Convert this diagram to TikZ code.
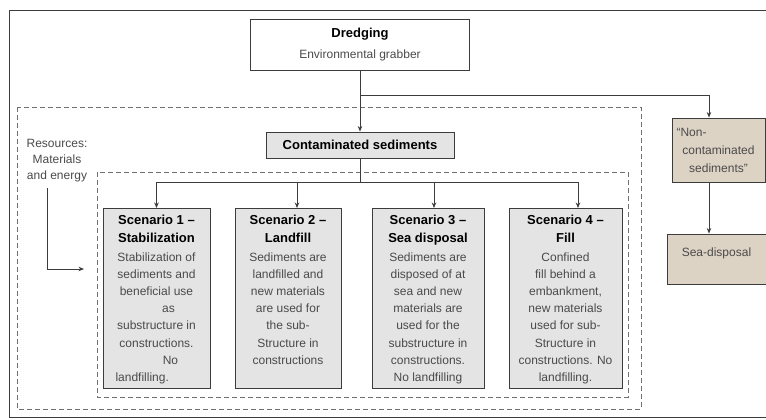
\documentclass[tikz,border=0pt]{standalone}
\usepackage{fontspec}
\setmainfont{Liberation Sans}
\usepackage{xcolor}
\usetikzlibrary{positioning, arrows.meta, arrows}

\definecolor{linegray}{HTML}{3C3C3C}
\definecolor{dashgray}{HTML}{707070}
\definecolor{boxgray}{HTML}{E4E4E4}
\definecolor{sandtan}{HTML}{DDD3C5}
\definecolor{bodygray}{HTML}{4A4A4A}

% title + body of one scenario box
\newcommand{\scentext}[2]{\parbox[t][166pt][t]{104pt}{\centering
  \fontsize{13}{18}\selectfont\bfseries #1\par
  \vspace{1pt}\fontsize{12}{17.2}\selectfont\mdseries\color{bodygray}#2\par}}

\begin{document}
\begin{tikzpicture}[x=1pt,y=-1pt,>={Stealth[length=5.5pt,width=4.5pt]},
    line/.style={draw=linegray, line width=0.9pt},
    conn/.style={->, draw=linegray, line width=0.9pt},
    dashbox/.style={draw=dashgray, line width=0.8pt, dash pattern=on 5pt off 3pt},
    box/.style={draw=linegray, line width=0.9pt, inner sep=2pt},
    scen/.style={box, fill=boxgray, anchor=north, inner xsep=1pt, inner ysep=7pt},
    tanbox/.style={box, fill=sandtan, font=\fontsize{12}{18}\selectfont, text=bodygray}]
    \useasboundingbox (0,0) rectangle (766,420);

    % frame and dashed regions
    \draw[line] (780,10) -| (9,417) -- (780,417);
    \draw[dashbox] (17,107) rectangle (641,409);
    \draw[dashbox] (97,172) rectangle (628,397);

    \node[box, minimum width=219pt, minimum height=51pt, align=center,
          font=\fontsize{12}{21}\selectfont, text=bodygray] (dr) at (360,44.5)
          {{\color{black}\bfseries\fontsize{13}{21}\selectfont Dredging}\\Environmental grabber};
    \node[box, fill=boxgray, minimum width=188pt, minimum height=26pt,
          font=\fontsize{13}{16}\selectfont\bfseries] (cs) at (360,145) {Contaminated sediments};
    \node[align=center, font=\fontsize{12}{16}\selectfont, text=bodygray] (res) at (57,161)
          {Resources:\\Materials\\and energy};

    \node[scen, minimum width=107pt] (sc1) at (156.5,208) {\scentext{Scenario 1 --\\Stabilization}
          {Stabilization of\\sediments and\\beneficial use\\\hspace*{24pt}as\\substructure in\\constructions.\\\hspace*{28pt}No\\\hspace*{11pt}landfilling.\hfill\mbox{}}};
    \node[scen, minimum width=106pt] (sc2) at (288,208) {\scentext{Scenario 2 --\\Landfill}
          {Sediments are\\landfilled and\\new materials\\are used for\\the sub-\\Structure in\\constructions}};
    \node[scen, minimum width=112pt] (sc3) at (428,208) {\scentext{Scenario 3 --\\Sea disposal}
          {Sediments are\\disposed of at\\sea and new\\materials are\\used for the\\substructure in\\constructions.\\No landfilling}};
    \node[scen, minimum width=113pt] (sc4) at (565.5,208) {\scentext{Scenario 4 --\\Fill}
          {Confined\\fill behind a\\embankment,\\new materials\\used for sub-\\Structure in\\constructions. No\\landfilling.}};

    \node[tanbox, minimum width=93pt, minimum height=64pt, text width=84pt, align=center] (nc) at (718.5,150)
          {``Non-\hfill\mbox{}\\contaminated\\sediments''};
    \node[tanbox, minimum width=99pt, minimum height=50pt, text depth=14pt] (sd) at (716.5,259) {Sea-disposal};

    \coordinate (split) at (360,95);
    \coordinate (bus) at (360,182);
    \coordinate (resin) at (84,269);

    % connectors
    \draw[conn] (dr) -- (cs);
    \draw[conn] (split) -| ([xshift=-9.5pt]nc.north);
    \draw[conn] ([xshift=-9.5pt]nc.south) -- ([xshift=-7.5pt]sd.north);
    \draw[line] (cs) -- (bus);
    \draw[conn] (bus) -| (sc1.north);
    \draw[conn] (bus) -| ([xshift=9pt]sc2.north);
    \draw[conn] (bus) -| ([xshift=6pt]sc3.north);
    \draw[conn] (bus) -| ([xshift=12.5pt]sc4.north);
    \draw[conn, shorten <=2pt] ([xshift=-10pt]res.south) |- (resin);
\end{tikzpicture}
\end{document}
